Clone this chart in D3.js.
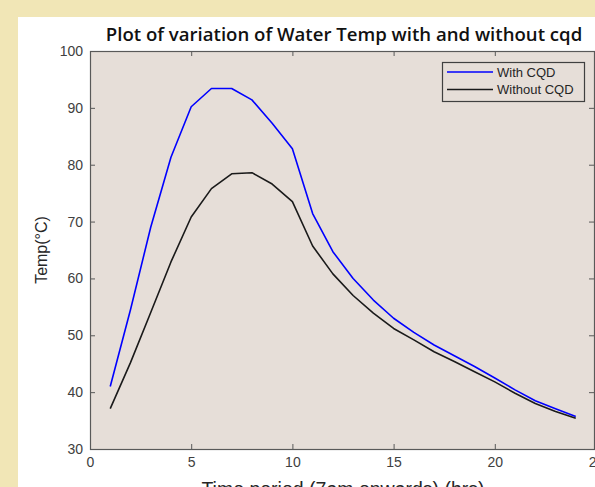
<!DOCTYPE html>
<html>
<head>
<meta charset="utf-8">
<script src="https://cdn.jsdelivr.net/npm/d3@7"></script>
<style>
  html, body { margin: 0; padding: 0; background: #f1e6b6; }
  svg { display: block; }
</style>
</head>
<body>
<svg id="chart" width="595" height="487"></svg>
<script>
// Hour index (1 = 7am)
const hours = [1,2,3,4,5,6,7,8,9,10,11,12,13,14,15,16,17,18,19,20,21,22,23,24];
// Water temperature (°C) with CQD
const withCQD = [41.0,54.5,69.0,81.3,90.2,93.4,93.4,91.4,87.3,82.8,71.4,64.7,60.0,56.2,53.0,50.5,48.3,46.4,44.5,42.5,40.4,38.5,37.1,35.7];
// Water temperature (°C) without CQD
const withoutCQD = [37.1,45.2,54.0,62.9,70.8,75.8,78.4,78.6,76.6,73.5,65.7,60.8,57.0,53.9,51.2,49.2,47.1,45.4,43.6,41.8,39.8,38.0,36.6,35.4];
const xTicks = [0,5,10,15,20,25];
const yTicks = [30,40,50,60,70,80,90,100];
const seriesNames = ["With CQD", "Without CQD"];
const seriesColors = ["#0000ff", "#1a1a1a"];

const svg = d3.select("#chart");

// White figure panel
svg.append("rect").attr("x", 18).attr("y", 17).attr("width", 595 - 18).attr("height", 487 - 17).attr("fill", "#ffffff");

const plotL = 90, plotR = 596, plotT = 51, plotB = 449;
const x = d3.scaleLinear().domain([0, 25]).range([plotL, plotR]);
const y = d3.scaleLinear().domain([30, 100]).range([plotB, plotT]);

// Plot area background
svg.append("rect").attr("x", plotL).attr("y", plotT).attr("width", plotR - plotL).attr("height", plotB - plotT)
  .attr("fill", "#e6ded8");

const axisColor = "#595959";
const tickFont = "'Liberation Sans', Arial, sans-serif";

function styleAxis(g, showText) {
  g.select(".domain").remove();
  g.selectAll(".tick line").attr("stroke", axisColor).attr("stroke-width", 1);
  g.selectAll(".tick text").attr("fill", "#404040").attr("font-size", 14).attr("font-family", tickFont);
  if (!showText) g.selectAll(".tick text").remove();
}

// Bottom axis (ticks inward)
svg.append("g").attr("transform", `translate(0,${plotB})`)
  .call(d3.axisBottom(x).tickValues(xTicks).tickSizeInner(-5).tickSizeOuter(0).tickPadding(8))
  .call(g => styleAxis(g, true));
// Top axis
svg.append("g").attr("transform", `translate(0,${plotT})`)
  .call(d3.axisTop(x).tickValues(xTicks).tickSizeInner(-5).tickSizeOuter(0))
  .call(g => styleAxis(g, false));
// Left axis
svg.append("g").attr("transform", `translate(${plotL},0)`)
  .call(d3.axisLeft(y).tickValues(yTicks).tickSizeInner(-5).tickSizeOuter(0).tickPadding(7))
  .call(g => styleAxis(g, true));
// Right axis
svg.append("g").attr("transform", `translate(${plotR - 2},0)`)
  .call(d3.axisRight(y).tickValues(yTicks).tickSizeInner(-5).tickSizeOuter(0))
  .call(g => styleAxis(g, false));

// Axes box
svg.append("rect").attr("x", plotL + 0.5).attr("y", plotT + 0.5).attr("width", plotR - plotL - 2).attr("height", plotB - plotT)
  .attr("fill", "none").attr("stroke", axisColor).attr("stroke-width", 1.2);

// Series lines
const line = d3.line().x((d, i) => x(hours[i])).y(d => y(d));
[withCQD, withoutCQD].forEach((vals, k) => {
  svg.append("path").datum(vals).attr("d", line)
    .attr("fill", "none").attr("stroke", seriesColors[k]).attr("stroke-width", 1.6)
    .attr("stroke-linejoin", "round");
});

// Title
svg.append("text").attr("x", 344).attr("y", 41).attr("text-anchor", "middle")
  .attr("font-family", "'Open Sans', 'Noto Sans', sans-serif").attr("font-weight", 600).attr("font-size", 18.6)
  .attr("fill", "#111111")
  .text("Plot of variation of Water Temp with and without cqd");

// Axis labels
svg.append("text").attr("transform", `translate(47,${(plotT + plotB) / 2}) rotate(-90)`)
  .attr("text-anchor", "middle").attr("font-family", tickFont).attr("font-size", 16).attr("fill", "#262626")
  .text("Temp(°C)");
svg.append("text").attr("x", 343).attr("y", 496).attr("text-anchor", "middle")
  .attr("font-family", tickFont).attr("font-size", 19.5).attr("fill", "#262626")
  .text("Time period (7am onwards) (hrs)");

// Legend
const lg = svg.append("g").attr("transform", "translate(442,62)");
lg.append("rect").attr("x", 0.5).attr("y", 0.5).attr("width", 142).attr("height", 39)
  .attr("fill", "#e6ded8").attr("stroke", "#404040").attr("stroke-width", 1.2);
seriesNames.forEach((name, i) => {
  const ly = 10 + i * 17.5;
  lg.append("line").attr("x1", 5).attr("x2", 51).attr("y1", ly).attr("y2", ly)
    .attr("stroke", seriesColors[i]).attr("stroke-width", 1.6);
  lg.append("text").attr("x", 55).attr("y", ly + 4.5).attr("font-family", tickFont).attr("font-size", 13)
    .attr("fill", "#262626").text(name);
});
</script>
</body>
</html>
